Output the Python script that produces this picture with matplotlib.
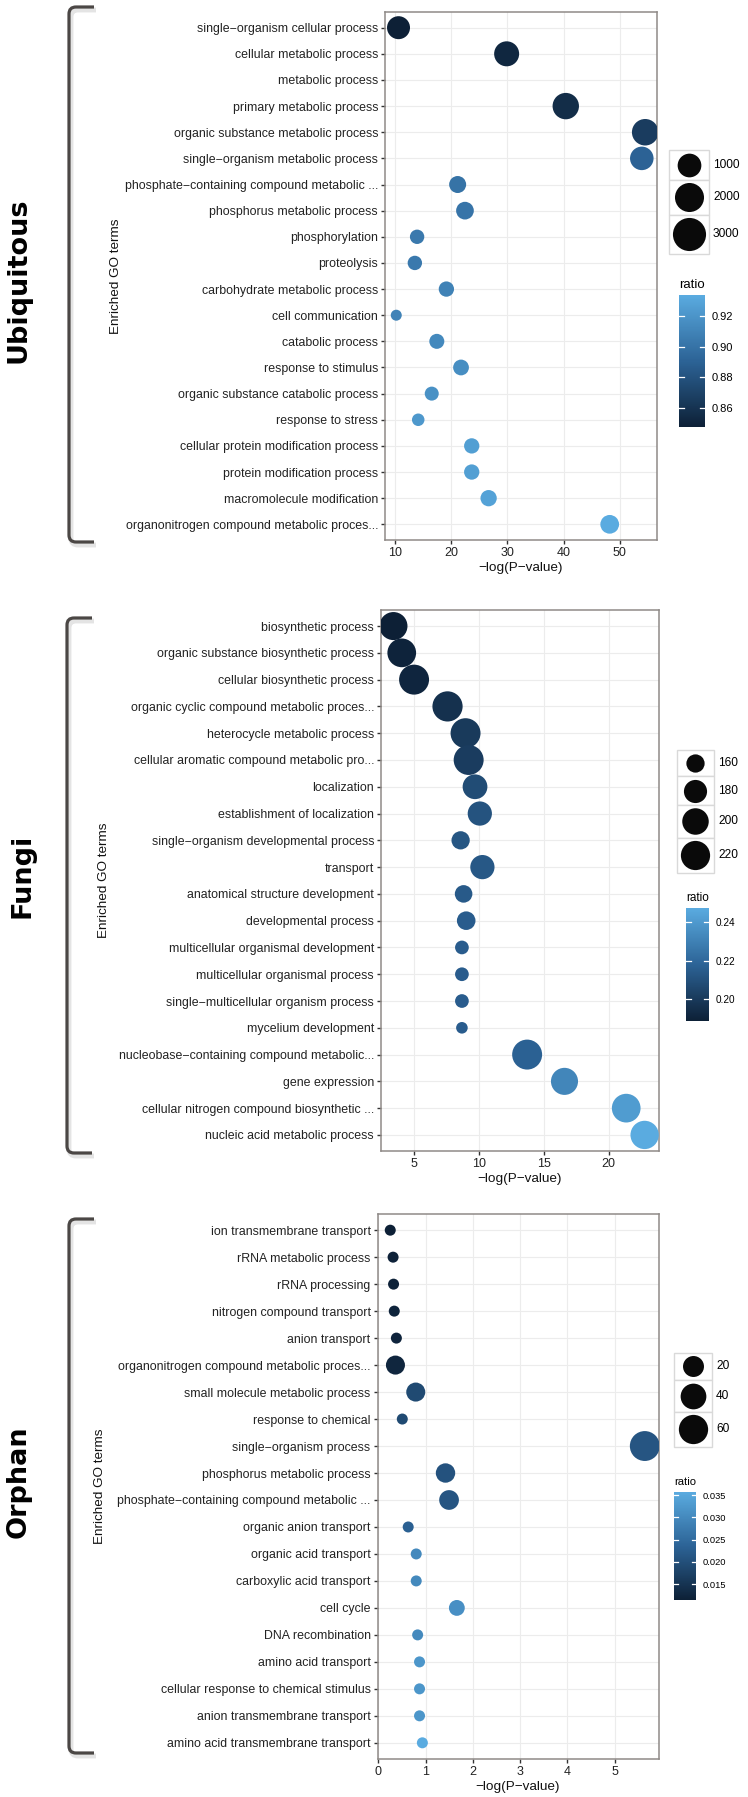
import numpy as np
import matplotlib
matplotlib.use("Agg")
import matplotlib.pyplot as plt
from matplotlib.colors import LinearSegmentedColormap, Normalize
from matplotlib.cm import ScalarMappable
from matplotlib.patches import Rectangle, PathPatch
from matplotlib.path import Path

plt.rcParams['font.family'] = ['Liberation Sans', 'DejaVu Sans']

W, H = 748, 1797
DPI = 100
PX = 72 / DPI  # points per pixel

# ---------------- data ----------------
ubi_terms = [
    "single\u2212organism cellular process", "cellular metabolic process",
    "metabolic process", "primary metabolic process",
    "organic substance metabolic process", "single\u2212organism metabolic process",
    "phosphate\u2212containing compound metabolic ...", "phosphorus metabolic process",
    "phosphorylation", "proteolysis", "carbohydrate metabolic process",
    "cell communication", "catabolic process", "response to stimulus",
    "organic substance catabolic process", "response to stress",
    "cellular protein modification process", "protein modification process",
    "macromolecule modification", "organonitrogen compound metabolic proces...",
]
# metabolic process lies outside the plotted range (not drawn)
ubi_logp = [10.7, 29.9, np.nan, 40.4, 54.5, 53.9, 21.2, 22.5, 14.0, 13.6,
            19.2, 10.3, 17.5, 21.8, 16.6, 14.2, 23.7, 23.7, 26.7, 48.2]
ubi_count = [890, 1210, 3500, 1460, 1480, 970, 234, 288, 84, 84,
             127, 14, 112, 153, 69, 28, 127, 127, 185, 376]
ubi_ratio = [0.8476, 0.852, 0.850, 0.856, 0.866, 0.890, 0.900, 0.901, 0.904, 0.904,
             0.909, 0.910, 0.913, 0.916, 0.918, 0.922, 0.926, 0.926, 0.928, 0.9337]

fun_terms = [
    "biosynthetic process", "organic substance biosynthetic process",
    "cellular biosynthetic process", "organic cyclic compound metabolic proces...",
    "heterocycle metabolic process", "cellular aromatic compound metabolic pro...",
    "localization", "establishment of localization",
    "single\u2212organism developmental process", "transport",
    "anatomical structure development", "developmental process",
    "multicellular organismal development", "multicellular organismal process",
    "single\u2212multicellular organism process", "mycelium development",
    "nucleobase\u2212containing compound metabolic...", "gene expression",
    "cellular nitrogen compound biosynthetic ...", "nucleic acid metabolic process",
]
fun_logp = [3.41, 4.05, 5.0, 7.58, 8.97, 9.21, 9.70, 10.07, 8.59, 10.27,
            8.82, 9.02, 8.69, 8.69, 8.69, 8.69, 13.72, 16.6, 21.36, 22.78]
fun_count = [211, 216, 226, 228, 226, 226, 189, 186, 160, 186,
             158, 161, 151, 151, 151, 150, 226, 204, 216, 213]
fun_ratio = [0.1886, 0.190, 0.191, 0.196, 0.200, 0.201, 0.208, 0.211, 0.212, 0.213,
             0.214, 0.215, 0.215, 0.215, 0.215, 0.215, 0.217, 0.232, 0.241, 0.2473]

orp_terms = [
    "ion transmembrane transport", "rRNA metabolic process", "rRNA processing",
    "nitrogen compound transport", "anion transport",
    "organonitrogen compound metabolic proces...", "small molecule metabolic process",
    "response to chemical", "single\u2212organism process",
    "phosphorus metabolic process", "phosphate\u2212containing compound metabolic ...",
    "organic anion transport", "organic acid transport", "carboxylic acid transport",
    "cell cycle", "DNA recombination", "amino acid transport",
    "cellular response to chemical stimulus", "anion transmembrane transport",
    "amino acid transmembrane transport",
]
orp_logp = [0.25, 0.31, 0.32, 0.335, 0.38, 0.36, 0.79, 0.505, 5.64, 1.42,
            1.495, 0.63, 0.80, 0.80, 1.66, 0.83, 0.87, 0.87, 0.87, 0.93]
orp_count = [3, 3, 3, 3, 3, 14, 14, 3, 64, 15, 16, 3, 3, 3, 7, 3, 3, 3, 3, 3]
orp_ratio = [0.0114, 0.0118, 0.0118, 0.012, 0.0122, 0.0125, 0.019, 0.019, 0.021, 0.0205,
             0.021, 0.023, 0.030, 0.030, 0.031, 0.030, 0.032, 0.032, 0.032, 0.0357]

ubi_size_breaks = [1000, 2000, 3000]
fun_size_breaks = [160, 180, 200, 220]
orp_size_breaks = [20, 40, 60]
ubi_ratio_ticks = [0.86, 0.88, 0.90, 0.92]
fun_ratio_ticks = [0.20, 0.22, 0.24]
orp_ratio_ticks = [0.015, 0.020, 0.025, 0.030, 0.035]

cmap = LinearSegmentedColormap.from_list("gg", ["#0d2036", "#2c6396", "#5aabe0"])

fig = plt.figure(figsize=(W / DPI, H / DPI), dpi=DPI)
fig.patch.set_facecolor("white")

ov = fig.add_axes([0, 0, 1, 1], zorder=5)
ov.set_xlim(0, W)
ov.set_ylim(H, 0)
ov.axis("off")
ov.patch.set_visible(False)


def px_rect(l, t, r, b):
    return [l / W, 1 - b / H, (r - l) / W, (b - t) / H]


def diam(c, counts, drange):
    lo, hi = np.nanmin(counts), np.nanmax(counts)
    return drange[0] + (drange[1] - drange[0]) * np.sqrt((np.asarray(c, float) - lo) / (hi - lo))


def bracket(x, top, bottom, arm):
    r = 7
    verts = [(arm, top), (x + r, top), (x, top), (x, top + r),
             (x, bottom - r), (x, bottom), (x + r, bottom), (arm, bottom)]
    codes = [Path.MOVETO, Path.LINETO, Path.CURVE3, Path.CURVE3,
             Path.LINETO, Path.CURVE3, Path.CURVE3, Path.LINETO]
    sh = [(vx + 2, vy + 3) for vx, vy in verts]
    ov.add_patch(PathPatch(Path(sh, codes), fill=False, edgecolor="#e4e4e4", lw=3.5))
    ov.add_patch(PathPatch(Path(verts, codes), fill=False, edgecolor="#4b4745",
                           lw=2.3, capstyle="butt"))


def panel(box, terms, logp, count, ratio, xlim, xticks, drange, group, group_xy,
          ylab_x, breaks, leg_box, cbar_box, rticks, rfmt, fs_cb, fs_title):
    l, t, r, b = box
    ax = fig.add_axes(px_rect(l, t, r, b))
    n = len(terms)
    y = np.arange(n)
    norm = Normalize(min(ratio), max(ratio))
    d = diam(count, count, drange)
    ax.scatter(logp, y, s=(d * PX) ** 2, c=ratio, cmap=cmap, norm=norm,
               linewidths=0, zorder=3)
    ax.set_xlim(xlim)
    ax.set_ylim(n - 0.4, -0.6)
    ax.set_yticks(y)
    ax.set_yticklabels(terms)
    ax.set_xticks(xticks)
    ax.grid(color="#ececec", lw=0.8)
    ax.set_axisbelow(True)
    for s in ax.spines.values():
        s.set_color("#8f8a87")
        s.set_linewidth(1.1)
    ax.tick_params(axis="y", length=3, width=1, color="#333333", pad=2,
                   labelsize=8.9, labelcolor="#222222")
    ax.tick_params(axis="x", length=3, width=1, color="#333333", pad=2,
                   labelsize=9, labelcolor="#222222")
    ax.set_xlabel("\u2212log(P\u2212value)", fontsize=9.7, labelpad=2, color="#111111")

    # group label, bracket, y title
    ov.text(group_xy[0], group_xy[1], group, rotation=90, ha="center", va="center",
            fontsize=19.5, fontweight="bold", family=["DejaVu Sans"])
    bracket(*group_xy[2:])
    ov.text(ylab_x, (t + b) / 2, "Enriched GO terms", rotation=90, ha="center",
            va="center", fontsize=9.7, color="#111111")

    # size legend (ggplot style keys)
    lx0, lx1, ly = leg_box
    ld = diam(breaks, count, drange)
    for v, dd in zip(breaks, ld):
        hh = max(dd + 6, 26)
        ov.add_patch(Rectangle((lx0, ly), lx1 - lx0, hh, facecolor="white",
                               edgecolor="#d9d9d9", lw=1))
        ov.scatter([(lx0 + lx1) / 2], [ly + hh / 2], s=(dd * PX) ** 2,
                   color="#0a0a0a", linewidths=0)
        ov.text(lx1 + 4, ly + hh / 2, str(v), ha="left", va="center", fontsize=8.6)
        ly += hh

    # colour bar
    cl, ct, cr, cb_ = cbar_box
    cax = fig.add_axes(px_rect(cl, ct, cr, cb_))
    cb = fig.colorbar(ScalarMappable(norm=norm, cmap=cmap), cax=cax)
    cb.outline.set_visible(False)
    cb.set_ticks(rticks, labels=[rfmt % v for v in rticks])
    cax.tick_params(length=0, labelsize=fs_cb, pad=4.5)
    for v in rticks:
        cax.plot([0, 0.2], [v, v], color="white", lw=0.9)
        cax.plot([0.8, 1], [v, v], color="white", lw=0.9)
    ov.text(cl, ct - 10, "ratio", ha="left", va="center", fontsize=fs_title)
    return ax


panel((385, 12, 657, 540), ubi_terms, ubi_logp, ubi_count, ubi_ratio,
      (8.3, 56.6), [10, 20, 30, 40, 50], (11, 34.9), "Ubiquitous",
      (19, 280, 69, 7, 542, 94), 116.5, ubi_size_breaks, (669, 709, 150),
      (679, 295, 705, 427), ubi_ratio_ticks, "%.2f", 8, 9.5)

panel((381, 610, 658.5, 1151), fun_terms, fun_logp, fun_count, fun_ratio,
      (2.45, 23.85), [5, 10, 15, 20], (11.6, 30.2), "Fungi",
      (23, 876, 67, 618, 1153, 92), 104, fun_size_breaks, (677, 714, 750),
      (686, 908, 709, 1021), fun_ratio_ticks, "%.2f", 7.2, 8.5)

panel((377.5, 1214, 658.5, 1759), orp_terms, orp_logp, orp_count, orp_ratio,
      (-0.02, 5.93), [0, 1, 2, 3, 4, 5], (11, 29.9), "Orphan",
      (19, 1482, 69, 1219, 1753, 94), 100, orp_size_breaks, (674, 712, 1353),
      (674, 1492, 696, 1600), orp_ratio_ticks, "%.3f", 6.7, 8.1)

fig.savefig("out.png", dpi=DPI)
